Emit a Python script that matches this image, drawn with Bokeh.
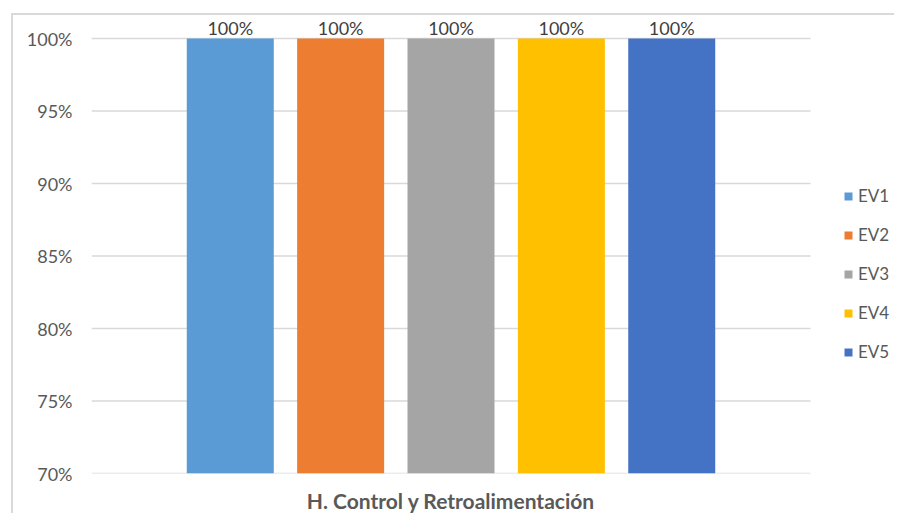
from bokeh.plotting import figure
from bokeh.models import (ColumnDataSource, Range1d, LabelSet, Legend,
                          LegendItem, NumeralTickFormatter, FixedTicker)
from bokeh.core.properties import value
from bokeh.embed import file_html
from bokeh.resources import INLINE

# ---- data ----
category = "H. Control y Retroalimentación"
series = ["EV1", "EV2", "EV3", "EV4", "EV5"]
values = [1.00, 1.00, 1.00, 1.00, 1.00]
colors = ["#5B9BD5", "#ED7D31", "#A5A5A5", "#FFC000", "#4472C4"]
y_ticks = [0.70, 0.75, 0.80, 0.85, 0.90, 0.95, 1.00]

FONT = "Lato"
TXT = "#595959"

# category occupies x in [0, 1]; extra room on the right holds the legend
CAT_CENTER = 0.5
p = figure(x_range=Range1d(0, 1.1196),
           y_range=Range1d(0.70, 1.01175),
           width=883, height=500, output_backend="svg", toolbar_location=None,
           min_border_left=78, min_border_right=0, min_border_top=6, min_border_bottom=38)
p.styles = {"margin-left": "11px", "margin-top": "13px",
            "border-left": "2px solid #d9d9d9", "border-top": "2px solid #d9d9d9"}
p.outline_line_color = None
p.background_fill_color = "white"
p.border_fill_color = "white"

# gridlines across the category band only
p.segment(x0=0, x1=1, y0=y_ticks, y1=y_ticks, line_color="#d9d9d9", line_width=1.5)

offsets = [-0.307, -0.1535, 0.0, 0.1535, 0.307]
bar_w = 0.121

items = []
for name, val, col, off in zip(series, values, colors, offsets):
    src = ColumnDataSource(dict(x=[CAT_CENTER + off], val=[val], lab=[f"{val:.0%}"]))
    r = p.vbar(x="x", top="val", bottom=0.0, width=bar_w, source=src,
               fill_color=col, line_color=None)
    items.append(LegendItem(label=name, renderers=[r]))
    lbl = LabelSet(x="x", y="val", text="lab", source=src,
                   text_align="center", text_baseline="bottom", y_offset=0,
                   text_font=value(FONT), text_font_size="18px", text_color="#404040")
    p.add_layout(lbl)

legend = Legend(items=items, location=(752, 111), orientation="vertical",
                glyph_width=10, glyph_height=10, label_height=20, spacing=18,
                label_standoff=5, padding=0, margin=0,
                label_text_font=FONT, label_text_font_size="17px", label_text_color=TXT,
                border_line_color=None, background_fill_alpha=0)
p.add_layout(legend, "center")

p.yaxis.ticker = FixedTicker(ticks=y_ticks)
p.yaxis.formatter = NumeralTickFormatter(format="0%")
p.yaxis.axis_line_color = None
p.yaxis.major_tick_line_color = None
p.yaxis.minor_tick_line_color = None
p.yaxis.major_label_standoff = 13
p.yaxis.major_label_text_font = FONT
p.yaxis.major_label_text_font_size = "18px"
p.yaxis.major_label_text_color = TXT

p.xaxis.ticker = FixedTicker(ticks=[CAT_CENTER])
p.xaxis.major_label_overrides = {CAT_CENTER: category}
p.xaxis.axis_line_color = None
p.xaxis.major_tick_line_color = None
p.xaxis.minor_tick_line_color = None
p.xaxis.major_label_standoff = 8
p.xaxis.major_label_text_font = FONT
p.xaxis.major_label_text_font_size = "21px"
p.xaxis.major_label_text_font_style = "bold"
p.xaxis.major_label_text_color = TXT

p.xgrid.grid_line_color = None
p.ygrid.grid_line_color = None

open("out.html", "w").write(file_html(p, INLINE))
